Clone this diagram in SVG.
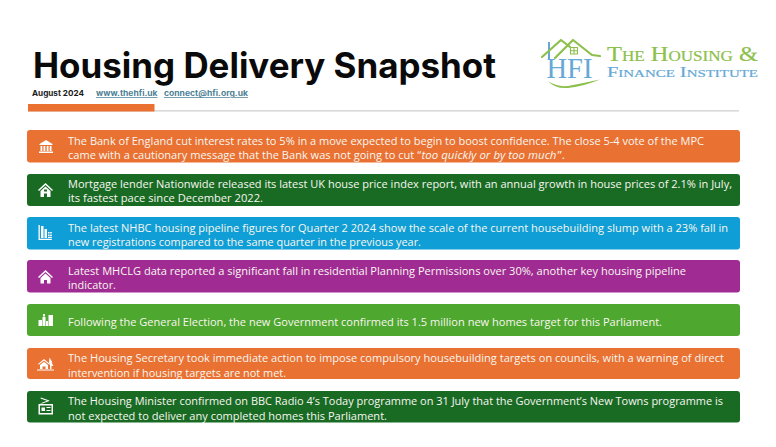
<svg xmlns="http://www.w3.org/2000/svg" width="776" height="447" viewBox="0 0 776 447">
<style>
.t{font-family:"Open Sans","Noto Sans",sans-serif;font-size:11.4px;font-weight:500;fill:#f8f6f0}
.i{fill:#fff;stroke:none}
.l{fill:none;stroke:#8cc04b;stroke-width:2.2;stroke-linecap:round;stroke-linejoin:round}
.s{font-family:"Liberation Serif",serif;font-variant:small-caps}
.h{font-family:Inter,sans-serif;font-weight:700;font-size:7.6px}
.a{fill:#4d7f96;text-decoration:underline}
</style>
<rect width="776" height="447" fill="#fff"/>
<text x="33" y="78" font-family="Inter,'Noto Sans',sans-serif" font-weight="700" font-size="35" fill="#0a0a0a" textLength="463" lengthAdjust="spacingAndGlyphs">Housing Delivery Snapshot</text>
<text class="h" x="32" y="96" fill="#1a1a1a" textLength="52" lengthAdjust="spacingAndGlyphs">August 2024</text>
<text class="h a" x="96" y="96" textLength="61.500" lengthAdjust="spacingAndGlyphs">www.thehfi.uk</text>
<text class="h a" x="164" y="96" textLength="84" lengthAdjust="spacingAndGlyphs">connect@hfi.org.uk</text>
<rect x="28" y="110" width="711" height="1.600" fill="#d9d9d9"/>
<rect x="28" y="104" width="126.500" height="7.500" fill="#ea7130"/>

<g id="logo">
<path d="M549 42V60" stroke="#66a9d6" stroke-width="2" fill="none"/>
<path class="l" d="M542 57L561 40L570 47"/>
<path class="l" d="M555 58L573 40L592 55L600 56"/>
<path d="M570.500 47.500h7v6.500h-7zM574 47.500v6.500M570.500 50.700h7" stroke="#8cc04b" stroke-width="1.100" fill="none"/>
<text x="546.500" y="78" font-family="Liberation Serif,serif" font-size="29" fill="#66a9d6" textLength="46" lengthAdjust="spacingAndGlyphs">HFI</text>
<path d="M548 81Q556 87 568 86Q584 83 600 79.500Q585 86 568 88Q555 89 548 81Z" fill="#8cc04b"/>
<text class="s" x="607" y="61" font-size="20" fill="#8cc04b" stroke="#8cc04b" stroke-width=".2" textLength="151" lengthAdjust="spacingAndGlyphs">The Housing &amp;</text>
<text class="s" x="607" y="77" font-size="15" fill="#66a9d6" stroke="#66a9d6" stroke-width=".2" textLength="151" lengthAdjust="spacingAndGlyphs">Finance Institute</text>
</g>

<g id="row1">
<rect x="27" y="130" width="713" height="32.500" rx="3" fill="#e97132"/>
<path class="i" d="M39.500 144l6.500-4 6.500 4v1h-13zM40.500 146h1.800v5h-1.800zM43.500 146h1.800v5h-1.800zM46.700 146h1.800v5h-1.800zM49.700 146h1.800v5h-1.800zM39 151.500h14v1.500h-14z"/>
<text class="t" x="68" y="144.500" textLength="636" lengthAdjust="spacingAndGlyphs">The Bank of England cut interest rates to 5% in a move expected to begin to boost confidence. The close 5-4 vote of the MPC</text>
<text class="t" x="68" y="158.500" textLength="353" lengthAdjust="spacingAndGlyphs">came with a cautionary message that the Bank was not going to cut “</text>
<text class="t" x="421.500" y="158.500" font-style="italic" textLength="135" lengthAdjust="spacingAndGlyphs">too quickly or by too much</text>
<text class="t" x="557.500" y="158.500" textLength="7.500" lengthAdjust="spacingAndGlyphs">”.</text>
</g>
<g id="row2">
<rect x="27" y="174" width="713" height="32" rx="3" fill="#196b24"/>
<path class="i" fill-rule="evenodd" d="M38 190l7.500-7 7.500 7-1 1-6.500-6-6.500 6zM40.500 191l5-4.500 5 4.500v6h-3.500v-3.500h-3v3.500h-3.500zM44 189.500v2h3v-2z"/>
<text class="t" x="68" y="188" textLength="664" lengthAdjust="spacingAndGlyphs">Mortgage lender Nationwide released its latest UK house price index report, with an annual growth in house prices of 2.1% in July,</text>
<text class="t" x="68" y="202" textLength="195" lengthAdjust="spacingAndGlyphs">its fastest pace since December 2022.</text>
</g>
<g id="row3">
<rect x="27" y="217" width="713" height="32.500" rx="3" fill="#0f9ed5"/>
<path class="i" d="M38.500 225h1.300v13.700h12v1.300h-13.300zM41 226h2.500v12h-2.500zM44.500 229h2.500v9h-2.500zM48 232h1.600v1.600h-1.600zM50.200 232h1.600v1.600h-1.600zM48 234.500h1.600v1.500h-1.600zM50.200 234.500h1.600v1.500h-1.600zM48 236.700h3.800v1.300h-3.800z"/>
<text class="t" x="68" y="231.500" textLength="660" lengthAdjust="spacingAndGlyphs">The latest NHBC housing pipeline figures for Quarter 2 2024 show the scale of the current housebuilding slump with a 23% fall in</text>
<text class="t" x="68" y="245.500" textLength="353" lengthAdjust="spacingAndGlyphs">new registrations compared to the same quarter in the previous year.</text>
</g>
<g id="row4">
<rect x="27" y="260" width="713" height="32.500" rx="3" fill="#a02b93"/>
<path class="i" d="M38 277l7.500-7 7.500 7-1 1-6.500-6-6.500 6zM40.500 278l5-4.500 5 4.500v5.500h-3.500v-3.500h-3v3.500h-3.500z"/>
<text class="t" x="68" y="274.500" textLength="618" lengthAdjust="spacingAndGlyphs">Latest MHCLG data reported a significant fall in residential Planning Permissions over 30%, another key housing pipeline</text>
<text class="t" x="68" y="288.500" textLength="48" lengthAdjust="spacingAndGlyphs">indicator.</text>
</g>
<g id="row5">
<rect x="27" y="304" width="713" height="32" rx="3" fill="#4ea72e"/>
<path class="i" d="M38.500 320h3.500v6h-3.500zM42.500 317h3v9h-3zM43 314h2v2.500h-2zM46 321h2v5h-2zM48.500 315h4.500v11h-4.500z"/>
<text class="t" x="68" y="325.500" textLength="594" lengthAdjust="spacingAndGlyphs">Following the General Election, the new Government confirmed its 1.5 million new homes target for this Parliament.</text>
</g>
<g id="row6">
<rect x="27" y="348" width="713" height="31" rx="3" fill="#e97132"/>
<path class="i" d="M38 364l6-5 6 5-.7.800-5.300-4.400-5.300 4.400zM40 365l4-3.300 4 3.300v4h-2.500v-2.500h-3v2.500h-2.500zM49.500 357.500l3 5h-1l2 3.500h-2v3h-1.500v-5l-1-1.500zM37 369.500h17v1h-17z"/>
<text class="t" x="68" y="362" textLength="656" lengthAdjust="spacingAndGlyphs">The Housing Secretary took immediate action to impose compulsory housebuilding targets on councils, with a warning of direct</text>
<text class="t" x="68" y="376.500" textLength="218" lengthAdjust="spacingAndGlyphs">intervention if housing targets are not met.</text>
</g>
<g id="row7">
<rect x="27" y="391" width="713" height="31.500" rx="3" fill="#196b24"/>
<path class="i" fill-rule="evenodd" d="M38.500 404h14.500v10.500h-14.500zM40 405.500v7.500h11.500v-7.500z"/>
<path class="i" d="M40 403.500l9-3.500.4 1-7 2.500zM40.500 398.500l.4-1 7 2.500-.4 1zM41.500 407.500h3.500v3.500h-3.500zM46.500 407h4v1h-4zM46.500 410h4v1h-4z"/>
<text class="t" x="68" y="405" textLength="655" lengthAdjust="spacingAndGlyphs">The Housing Minister confirmed on BBC Radio 4’s Today programme on 31 July that the Government’s New Towns programme is</text>
<text class="t" x="68" y="419.500" textLength="319" lengthAdjust="spacingAndGlyphs">not expected to deliver any completed homes this Parliament.</text>
</g>
</svg>
